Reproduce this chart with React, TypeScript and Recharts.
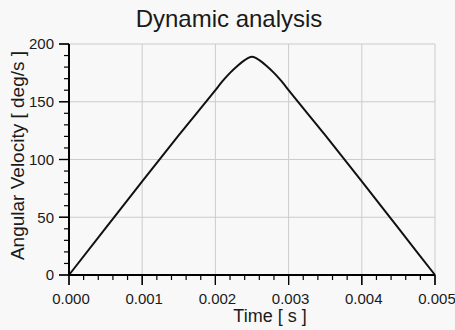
import React from "react";
import { LineChart, Line, XAxis, YAxis, ReferenceLine } from "recharts";

const timeS = [0, 0.0005, 0.001, 0.0015, 0.002, 0.0021, 0.0022, 0.0023, 0.0024, 0.00245, 0.0025, 0.00255, 0.0026, 0.0027, 0.0028, 0.0029, 0.003, 0.0035, 0.004, 0.0045, 0.005];
const angularVelocity = [0, 40.5, 81, 121, 160, 168, 175, 181, 186, 188, 189, 188, 186, 181, 175, 168, 160, 121, 81, 40.5, 0];

const timeTicks = [0, 0.001, 0.002, 0.003, 0.004, 0.005];
const velocityTicks = [0, 50, 100, 150, 200];

const data = timeS.map((t, i) => ({ t, v: angularVelocity[i] }));

// 5 minor subdivisions between major ticks
const subdivide = (majors: number[]) => {
    const out: number[] = [];
    for (let i = 0; i < majors.length - 1; i++) {
        const step = (majors[i + 1] - majors[i]) / 5;
        for (let k = 0; k < 5; k++) out.push(majors[i] + step * k);
    }
    out.push(majors[majors.length - 1]);
    return out;
};
const xMinor = subdivide(timeTicks);
const yMinor = subdivide(velocityTicks);

const FONT = "'Liberation Sans', Arial, sans-serif";
const INK = "#1a1a1a";
const GRID = "#cccccc";

const near = (v: number, list: number[]) => list.some((m) => Math.abs(m - v) < 1e-9);

// tick marks outside the plot, below the x axis / left of the y axis
const xTickShape = (len: number) => (p: any) => {
    const bottom = Math.max(p.y1, p.y2);
    return <line x1={p.x1} x2={p.x1} y1={bottom} y2={bottom + len} stroke="#000" strokeWidth={1.2} />;
};
const yTickShape = (len: number) => (p: any) => {
    const left = Math.min(p.x1, p.x2);
    return <line x1={left} x2={left - len} y1={p.y1} y2={p.y1} stroke="#000" strokeWidth={1.2} />;
};

export default function App() {
    return (
        <div style={{ position: "fixed", left: 0, top: 0, width: 455, height: 330, background: "#f8f8f8" }}>
            <div style={{ position: "absolute", left: 0, top: 5, width: 458, textAlign: "center", fontFamily: FONT, fontSize: 24, color: INK }}>
                Dynamic analysis
            </div>
            <LineChart width={455} height={330} data={data} margin={{ top: 44, right: 20, bottom: 0, left: 0 }}>
                {timeTicks.slice(1).map((t) => (
                    <ReferenceLine key={"gx" + t} x={t} stroke={GRID} strokeWidth={1} />
                ))}
                {velocityTicks.slice(1).map((v) => (
                    <ReferenceLine key={"gy" + v} y={v} stroke={GRID} strokeWidth={1} />
                ))}
                {xMinor.map((t, i) => (
                    <ReferenceLine key={"tx" + i} x={t} ifOverflow="visible" shape={xTickShape(near(t, timeTicks) ? 10 : 5)} />
                ))}
                {yMinor.map((v, i) => (
                    <ReferenceLine key={"ty" + i} y={v} ifOverflow="visible" shape={yTickShape(near(v, velocityTicks) ? 10 : 5)} />
                ))}
                <XAxis
                    dataKey="t"
                    type="number"
                    domain={[0, 0.005]}
                    ticks={timeTicks}
                    interval={0}
                    height={55}
                    tickSize={10}
                    tickMargin={8}
                    tickLine={{ stroke: "#000", strokeWidth: 1.2 }}
                    tick={{ fontSize: 15, fontFamily: FONT, fill: INK, dx: 2 }}
                    tickFormatter={(v: number) => v.toFixed(3)}
                    axisLine={{ stroke: "#000", strokeWidth: 2 }}
                    label={(p: any) => {
                        const vb = p.viewBox;
                        return (
                            <text x={vb.x + vb.width / 2 + 18} y={322} textAnchor="middle" fontSize={18} fontFamily={FONT} fill={INK}>
                                Time [ s ]
                            </text>
                        );
                    }}
                />
                <YAxis
                    type="number"
                    domain={[0, 200]}
                    ticks={velocityTicks}
                    interval={0}
                    width={69}
                    tickSize={10}
                    tickMargin={5}
                    tickLine={{ stroke: "#000", strokeWidth: 1.2 }}
                    tick={{ fontSize: 15, fontFamily: FONT, fill: INK }}
                    axisLine={{ stroke: "#000", strokeWidth: 2 }}
                    label={(p: any) => {
                        const vb = p.viewBox;
                        const cy = vb.y + vb.height / 2 - 4;
                        return (
                            <text x={23.5} y={cy} transform={`rotate(-90, 23.5, ${cy})`} textAnchor="middle" fontSize={19} fontFamily={FONT} fill={INK}>
                                Angular Velocity [ deg/s ]
                            </text>
                        );
                    }}
                />
                <Line type="monotone" dataKey="v" stroke="#111" strokeWidth={2} dot={false} isAnimationActive={false} />
            </LineChart>
        </div>
    );
}
